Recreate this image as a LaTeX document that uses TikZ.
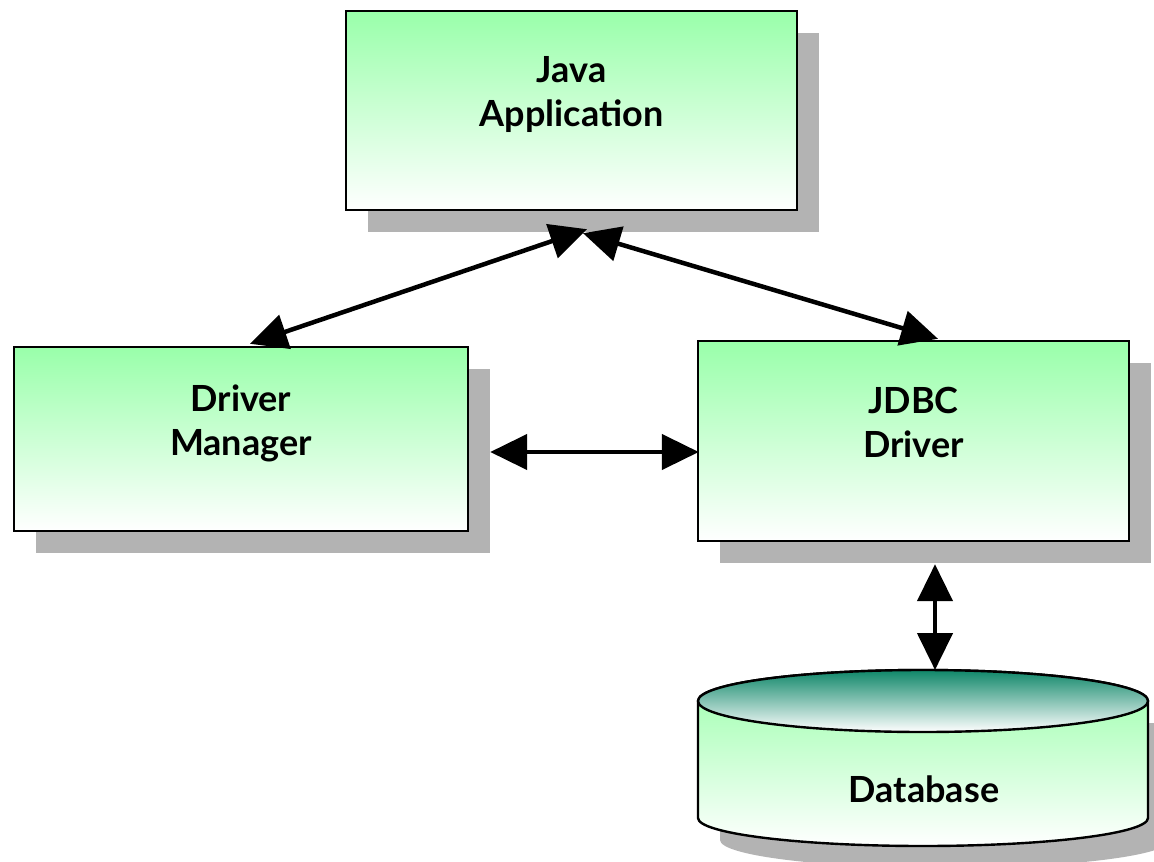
\documentclass[tikz,border=0pt]{standalone}
\usepackage{fontspec}
\setmainfont{Lato}
\usetikzlibrary{arrows.meta,shadows}
\definecolor{boxgreen}{RGB}{153,255,170}
\definecolor{dbteal}{RGB}{15,135,105}
\definecolor{shadowgray}{RGB}{179,179,179}

\begin{document}
\begin{tikzpicture}[x=1pt,y=-1pt,
	link/.style={line width=4.5pt,line join=round,{Triangle[length=37pt,width=35pt]}-{Triangle[length=37pt,width=35pt]}},
	dblabel/.style={font=\fontsize{36}{44}\selectfont\bfseries,anchor=base}]
	\useasboundingbox (0,0) rectangle (1154,862);

	\begin{scope}[every node/.style={rectangle,draw,line width=2.4pt,top color=boxgreen,bottom color=white,
		drop shadow={shadow xshift=22pt,shadow yshift=-22pt,fill=shadowgray,opacity=1},
		font=\fontsize{36}{44}\selectfont\bfseries,align=center,text depth=38pt}]
	\node[minimum width=451pt,minimum height=199pt] (java) at (571.5,110.5) {Java\\Application};
	\node[minimum width=454pt,minimum height=184pt] (dm) at (241,439) {Driver\\Manager};
	\node[minimum width=431pt,minimum height=200pt] (jdbc) at (913.5,441) {JDBC\\Driver};
	\end{scope}

	% database
	\fill[shadowgray] (720,723) -- (720,840) arc[start angle=180,end angle=360,x radius=225pt,y radius=28pt] -- (1170,723) -- cycle;
	\draw[line width=2.4pt,top color=boxgreen,bottom color=white] (698,701) -- (698,818)
		arc[start angle=180,end angle=360,x radius=225pt,y radius=28pt] -- (1148,701)
		arc[start angle=0,end angle=180,x radius=225pt,y radius=31pt] -- cycle;
	\draw[line width=2.4pt,top color=dbteal,bottom color=white] (923,701) ellipse [x radius=225pt,y radius=31pt];
	\node[dblabel] (db) at (924,802) {Database};
	\coordinate (dbtop) at (935,670);

	\draw[link] ([xshift=9pt,yshift=2pt]dm.north) -- ([xshift=15.5pt,yshift=-18pt]java.south);
	\draw[link] ([xshift=11.5pt,yshift=-22pt]java.south) -- ([xshift=24.5pt,yshift=1pt]jdbc.north);
	\draw[link] ([xshift=21pt,yshift=-13pt]dm.east) -- ([xshift=2pt,yshift=-11pt]jdbc.west);
	\draw[link] ([xshift=21.5pt,yshift=-22pt]jdbc.south) -- (dbtop);
\end{tikzpicture}
\end{document}
